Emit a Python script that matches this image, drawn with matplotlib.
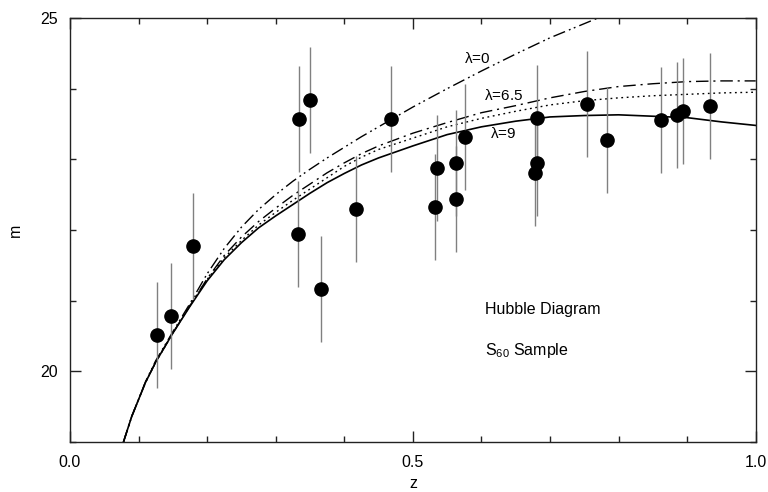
import matplotlib
matplotlib.use("Agg")
import matplotlib.pyplot as plt
from matplotlib.ticker import FixedLocator, MultipleLocator

plt.rcParams['font.family'] = ['Liberation Sans', 'DejaVu Sans']
plt.rcParams['mathtext.fontset'] = 'custom'
plt.rcParams['mathtext.rm'] = 'Liberation Sans'
plt.rcParams['mathtext.it'] = 'Liberation Sans'

# Observed galaxies: redshift, apparent magnitude, magnitude error
z_obs = [0.127, 0.147, 0.179, 0.334, 0.3495, 0.333, 0.3665, 0.4166, 0.468,
         0.532, 0.535, 0.5625, 0.5625, 0.5766, 0.6777, 0.6806, 0.6806,
         0.754, 0.7836, 0.862, 0.8857, 0.8935, 0.933]
m_obs = [20.52, 20.79, 21.77, 23.57, 23.84, 21.95, 21.17, 22.30, 23.57,
         22.32, 22.88, 22.44, 22.95, 23.32, 22.81, 22.95, 23.58,
         23.78, 23.28, 23.55, 23.63, 23.68, 23.75]
m_err = [0.75] * len(z_obs)

# Model curves sampled in redshift
z_model = [0.078, 0.09, 0.10, 0.11, 0.125, 0.15, 0.175, 0.20, 0.225, 0.25,
           0.275, 0.30, 0.325, 0.35, 0.375, 0.40, 0.425, 0.45, 0.50, 0.55,
           0.60, 0.65, 0.70, 0.75, 0.80, 0.85, 0.90, 0.95, 1.00]
m_lam9 = [19.00, 19.36, 19.60, 19.84, 20.13, 20.54, 20.92, 21.28, 21.58, 21.82,
          22.03, 22.20, 22.36, 22.52, 22.67, 22.80, 22.92, 23.02, 23.19, 23.35,
          23.46, 23.54, 23.60, 23.62, 23.63, 23.61, 23.59, 23.53, 23.48]
m_mid = [19.00, 19.36, 19.60, 19.84, 20.13, 20.54, 20.93, 21.30, 21.61, 21.85,
         22.07, 22.25, 22.42, 22.58, 22.74, 22.90, 23.03, 23.14, 23.30, 23.46,
         23.58, 23.68, 23.77, 23.83, 23.87, 23.90, 23.92, 23.94, 23.95]
m_lam65 = [19.00, 19.36, 19.60, 19.84, 20.13, 20.54, 20.93, 21.31, 21.64, 21.90,
           22.12, 22.31, 22.49, 22.65, 22.81, 22.95, 23.08, 23.19, 23.37, 23.52,
           23.66, 23.76, 23.87, 23.96, 24.03, 24.07, 24.10, 24.11, 24.11]
m_lam0 = [19.00, 19.36, 19.60, 19.85, 20.15, 20.56, 20.96, 21.38, 21.74, 22.04,
          22.29, 22.50, 22.69, 22.86, 23.02, 23.17, 23.32, 23.46, 23.74, 24.00,
          24.25, 24.49, 24.72, 24.92, 25.12, 25.30, 25.48, 25.64, 25.80]

curve_labels = [r'$\lambda$=0', r'$\lambda$=6.5', r'$\lambda$=9']
curve_label_pos = [(0.5746, 24.42), (0.604, 23.90), (0.6125, 23.37)]

fig = plt.figure(figsize=(7.68, 4.92), dpi=100)
ax = fig.add_axes([0.0911, 0.1016, 0.8929, 0.8618])

ax.plot(z_model, m_lam0, color='black', lw=1.0,
        linestyle=(0, (9, 3, 1.3, 2.5, 1.3, 3)), zorder=2)
ax.plot(z_model, m_lam65, color='black', lw=1.0,
        linestyle=(0, (9, 3.5, 1.5, 3.5)), zorder=2)
ax.plot(z_model, m_mid, color='black', lw=1.0,
        linestyle=(0, (1.3, 2.6)), zorder=2)
ax.plot(z_model, m_lam9, color='black', lw=1.2, linestyle='-', zorder=2)

ax.errorbar(z_obs, m_obs, yerr=m_err, fmt='o', color='black',
            markersize=9.5, ecolor='#808080', elinewidth=1.0, capsize=0,
            zorder=3)

for txt, (zx, my) in zip(curve_labels, curve_label_pos):
    ax.text(zx, my, txt, fontsize=11, ha='left', va='center')

ax.text(0.6057, 20.88, 'Hubble Diagram', fontsize=11.5, ha='left', va='center')
ax.text(0.6057, 20.29, r'S$_{60}$ Sample', fontsize=11.5, ha='left', va='center')

ax.set_xlim(0.0, 1.0)
ax.set_ylim(19.0, 25.0)

ax.xaxis.set_major_locator(FixedLocator([0.0, 0.5, 1.0]))
ax.xaxis.set_minor_locator(MultipleLocator(0.1))
ax.yaxis.set_major_locator(FixedLocator([20, 25]))
ax.yaxis.set_minor_locator(MultipleLocator(1))
ax.set_xticklabels(['0.0', '0.5', '1.0'])
ax.set_yticklabels(['20', '25'])

ax.tick_params(which='both', direction='in', top=True, right=True,
               labelsize=11.5, width=1.0, color='#222222')
ax.tick_params(which='major', length=8, pad=9)
ax.tick_params(which='minor', length=4.5)

for sp in ax.spines.values():
    sp.set_linewidth(1.0)
    sp.set_color('#222222')

ax.set_xlabel('z', fontsize=11.5, labelpad=5)
ax.set_ylabel('m', fontsize=11.5, labelpad=12)

fig.savefig('out.png', dpi=100)
